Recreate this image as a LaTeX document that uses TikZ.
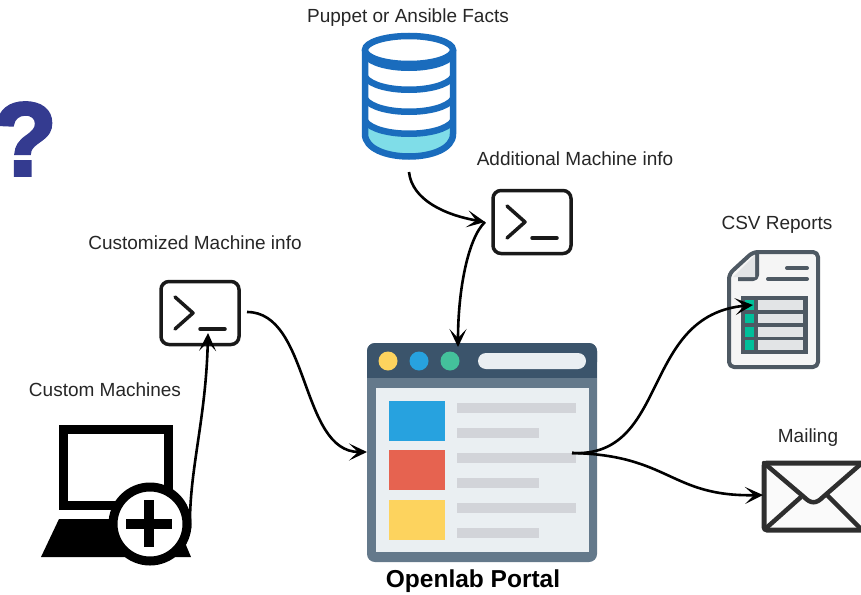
\documentclass[tikz,border=0pt]{standalone}
\usepackage{fontspec}
\setmainfont{Liberation Sans}
\newfontface\markface[FakeBold=3]{Liberation Sans Bold}
\usetikzlibrary{arrows.meta}
\definecolor{dbblue}{HTML}{1A6CBD}
\definecolor{dbcyan}{HTML}{7FDDE8}
\definecolor{barnavy}{HTML}{3B546B}
\definecolor{framegrey}{HTML}{64798B}
\definecolor{panelgrey}{HTML}{EAEFF2}
\definecolor{linegrey}{HTML}{D2D4D9}
\definecolor{dotyellow}{HTML}{FDD35E}
\definecolor{dotblue}{HTML}{27A2DF}
\definecolor{dotgreen}{HTML}{44C19B}
\definecolor{tilered}{HTML}{E66350}
\definecolor{docgrey}{HTML}{4E5963}
\definecolor{cellgrey}{HTML}{E2E4E6}
\definecolor{cellgreen}{HTML}{00BF9A}
\definecolor{marknavy}{HTML}{343B90}
\tikzset{
  label/.style={font=\fontsize{19}{21}\selectfont,text=black!85,inner sep=0pt},
  termbox/.style={draw=black!90,line width=3.5pt,rounded corners=8pt,minimum width=78pt,minimum height=63pt,inner sep=0pt},
  termline/.style={draw=black!90,line width=3.5pt,line cap=round,line join=round},
  dbband/.style={draw=dbblue,line width=6.5pt},
  link/.style={line width=2.6pt,-{Stealth[length=18pt,width=17pt,inset=9pt]}}
}
\newcommand\termicon[2]{
\node[termbox] (#1) at (#2) {};
\begin{scope}[shift={(#2)}]
\draw[termline] (-25,-16) -- (-7,0) -- (-25,16);
\draw[termline] (0,16) -- (25,16);
\end{scope}}
\newcommand\rowlines[1]{
\fill[linegrey] (457,#1) rectangle (576,#1+10);
\fill[linegrey] (457,#1+25) rectangle (539,#1+35);}
\begin{document}
\begin{tikzpicture}[x=1pt,y=-1pt]
\useasboundingbox (0,0) rectangle (861,594);
% question mark
\node[inner sep=0pt,text=marknavy,font=\fontsize{104}{104}\markface] (mark) at (25,139) {?};
% database
\fill[white] (365,50) -- (365,134) .. controls (365,164) and (453,164) .. (453,134) -- (453,50) -- cycle;
\fill[dbcyan] (365,121) .. controls (377,138) and (441,138) .. (453,121) -- (453,134) .. controls (453,164) and (365,164) .. (365,134) -- cycle;
\draw[dbband] (365,50) -- (365,134) .. controls (365,164) and (453,164) .. (453,134) -- (453,50);
\draw[dbband] (365,55) .. controls (377,72) and (441,72) .. (453,55);
\draw[dbband] (365,77) .. controls (377,94) and (441,94) .. (453,77);
\draw[dbband] (365,99) .. controls (377,116) and (441,116) .. (453,99);
\draw[dbband] (365,121) .. controls (377,138) and (441,138) .. (453,121);
\filldraw[draw=dbblue,fill=white,line width=6.5pt] (409,50) ellipse [x radius=44,y radius=14];
\coordinate (dbout) at (409,172);
\node[label] (factslabel) at (408,18) {Puppet or Ansible Facts};
% terminals
\termicon{termadd}{532,222}
\termicon{termcust}{200,313}
\coordinate (termaddin) at (485,222);
\coordinate (termcustin) at (208,333);
\coordinate (termcustout) at (247,312);
\node[label] (addlabel) at (575,159) {Additional Machine info};
\node[label] (custlabel) at (195,243) {Customized Machine info};
% portal
\fill[framegrey,rounded corners=8pt] (367,343) rectangle (597,562);
\fill[barnavy,rounded corners=8pt] (367,343) rectangle (597,370);
\fill[barnavy] (367,360) rectangle (597,378);
\fill[panelgrey] (376,388) rectangle (589,552);
\fill[dotyellow] (388,361) circle (9.5);
\fill[dotblue] (419,361) circle (9.5);
\fill[dotgreen] (450,361) circle (9.5);
\fill[panelgrey,rounded corners=8pt] (478,353) rectangle (586,369);
\fill[dotblue] (389,401) rectangle (445,441);
\fill[tilered] (389,450) rectangle (445,490);
\fill[dotyellow] (389,500) rectangle (445,540);
\rowlines{403}
\rowlines{453}
\rowlines{503}
\coordinate (portalin) at (458,347);
\coordinate (portalwest) at (367,452);
\coordinate (portalout) at (572,453);
\node[font=\fontsize{24.5}{27}\selectfont\bfseries,inner sep=0pt] (portallabel) at (473,581) {Openlab Portal};
% laptop
\draw[black,line width=9pt] (63.5,429.5) rectangle (168.5,505.5);
\fill[black] (41,557) -- (59,519) -- (175,519) -- (191,557) -- cycle;
\filldraw[draw=black,fill=white,line width=9pt] (150,524) circle (37);
\draw[black,line width=10pt] (126,524) -- (172,524);
\draw[black,line width=10pt] (149,500) -- (149,547);
\coordinate (laptopout) at (190,528);
\node[label] (laptoplabel) at (105,390) {Custom Machines};
% csv
\filldraw[draw=docgrey,fill=black!4,line width=4pt,line join=round,rounded corners=5pt] (753,252) -- (818,252) -- (818,367) -- (729,367) -- (729,274) -- cycle;
\filldraw[draw=docgrey,fill=cellgrey,line width=4pt,line join=round,rounded corners=1pt] (757,252) -- (757,273) [rounded corners=4pt] -- (757,279) -- (738,279);
\fill[cellgrey] (755,255) -- (755,277) -- (733,277) -- cycle;
\draw[docgrey,line width=4pt,line cap=round] (787,268) -- (807,268);
\draw[docgrey,line width=4pt,line cap=round] (768,279) -- (807,279);
\fill[docgrey] (741,296) rectangle (808,354);
\foreach \rowy in {300,313.5,327,340} {
  \fill[cellgreen] (745,\rowy) rectangle (754,\rowy+9.5);
  \fill[cellgrey] (758,\rowy) rectangle (803,\rowy+9.5);
}
\coordinate (csvin) at (753,305);
\node[label] (csvlabel) at (777,225) {CSV Reports};
% mail
\filldraw[draw=black!82,fill=black!2,line width=5pt,rounded corners=3pt] (764,463) rectangle (870,530);
\draw[black!82,line width=4.5pt,line cap=round] (764,463) -- (804,497) .. controls (811,504) and (816,504) .. (823,497) -- (862,463);
\draw[black!82,line width=4.5pt] (764,530) -- (801,497);
\draw[black!82,line width=4.5pt] (827,495) -- (862,530);
\coordinate (mailin) at (763,495);
\node[label] (maillabel) at (808,438) {Mailing};
% links
\draw[link] (dbout) .. controls (412,200) and (445,215) .. (termaddin);
\draw[link] (termaddin) .. controls (468,238) and (458,290) .. (portalin);
\draw[link] (laptopout) .. controls (189,470) and (206,420) .. (termcustin);
\draw[link] (termcustout) .. controls (310,312) and (300,452) .. (portalwest);
\draw[link] (portalout) .. controls (670,458) and (640,315) .. (csvin);
\draw[link] (portalout) .. controls (670,455) and (670,497) .. (mailin);
\end{tikzpicture}
\end{document}
